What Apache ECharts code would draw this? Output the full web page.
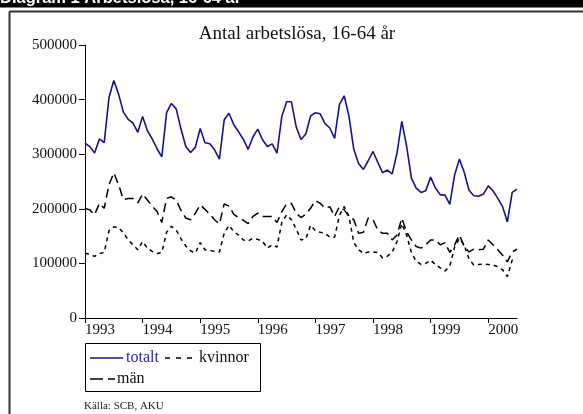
<!DOCTYPE html>
<html><head><meta charset="utf-8">
<script src="https://cdn.jsdelivr.net/npm/echarts@6/dist/echarts.min.js"></script>
<style>html,body{margin:0;padding:0;background:#fff}#c{width:583px;height:414px}</style>
</head><body><div id="c"></div>
<script>
// Monthly data, Jan 1993 – Jul 2000
const startYear = 1993;
const yearTicks = [1993, 1994, 1995, 1996, 1997, 1998, 1999, 2000];
const yTicks = [0, 100000, 200000, 300000, 400000, 500000];
const totalt = [320,314,302,328,321,404,435,410,377,364,357,340,
  369,343,328,310,295,376,393,383,346,314,303,313,
  347,321,319,308,291,363,375,354,341,327,309,332,
  346,326,314,319,302,369,396,396,350,327,337,370,
  376,374,356,348,329,391,407,369,309,283,272,288,
  305,285,266,271,264,302,360,315,256,238,230,233,
  258,238,226,225,208,262,291,267,234,224,223,227,
  242,233,219,204,176,230,236];
const kvinnor = [119,116,113,118,120,160,167,166,156,143,134,125,
  140,128,122,118,120,157,168,161,145,132,123,119,
  138,125,124,122,121,155,170,158,152,143,141,146,
  144,140,128,134,130,175,189,180,163,143,145,170,
  160,157,155,148,148,188,204,186,138,125,118,121,
  121,120,110,113,121,140,173,152,120,104,98,100,
  106,98,92,86,95,130,146,134,108,97,98,99,
  98,97,94,88,76,106,108];
const man = [201,198,189,210,201,244,266,244,217,219,219,211,
  227,216,205,195,175,219,222,216,197,183,180,192,
  207,199,190,180,172,209,205,190,184,179,173,186,
  192,186,186,186,175,195,209,210,192,184,190,201,
  215,210,201,204,186,204,198,186,180,155,157,183,
  180,161,155,155,143,152,183,158,143,131,128,134,
  143,143,134,138,120,134,152,131,121,126,125,126,
  143,134,125,115,103,121,126];

const toPts = arr => arr.map((v, i) => [startYear + i / 12, v * 1000]);
const serif = 'Liberation Serif';
const blue = '#14148c';

const chart = echarts.init(document.getElementById('c'), null, {renderer: 'canvas'});
chart.setOption({
  animation: false,
  backgroundColor: '#fff',
  grid: {left: 85, right: 66, top: 45, bottom: 96, containLabel: false},
  title: {
    text: 'Antal arbetslösa, 16-64 år',
    left: 292, top: 20, textAlign: 'center',
    textStyle: {fontFamily: serif, fontSize: 19, fontWeight: 'normal', color: '#111'}
  },
  xAxis: {
    type: 'value', min: yearTicks[0], max: 2000.5, interval: 1,
    axisLine: {lineStyle: {color: '#000', width: 1}},
    axisTick: {show: true, length: 5, lineStyle: {color: '#000'}},
    splitLine: {show: false},
    axisLabel: {
      showMaxLabel: false, align: 'left', margin: 5,
      fontFamily: serif, fontSize: 15, color: '#111',
      formatter: v => yearTicks.includes(Math.round(v)) ? String(Math.round(v)) : ''
    }
  },
  yAxis: {
    type: 'value', min: yTicks[0], max: yTicks[yTicks.length - 1], interval: 100000,
    axisLine: {show: true, lineStyle: {color: '#000', width: 1}},
    axisTick: {show: true, length: 6, lineStyle: {color: '#000'}},
    splitLine: {show: false},
    axisLabel: {margin: 8, fontFamily: serif, fontSize: 15, color: '#111',
      formatter: v => String(Math.round(v))}
  },
  series: [
    {name: 'totalt', type: 'line', data: toPts(totalt), showSymbol: false,
      lineStyle: {color: blue, width: 1.6}},
    {name: 'kvinnor', type: 'line', data: toPts(kvinnor), showSymbol: false,
      lineStyle: {color: '#000', width: 1.5, type: [4, 4]}},
    {name: 'män', type: 'line', data: toPts(man), showSymbol: false,
      lineStyle: {color: '#000', width: 1.5, type: [9, 5]}}
  ],
  graphic: [
    {type: 'rect', shape: {x: 0, y: 0, width: 583, height: 7.5}, style: {fill: '#000'}},
    {type: 'text', x: 0, y: 6.5, style: {text: 'Diagram 1 Arbetslösa, 16-64 år', fill: '#fff',
      font: 'bold 16.5px "Liberation Sans"', textVerticalAlign: 'bottom'}},
    {type: 'line', shape: {x1: 9.5, y1: 11.5, x2: 583, y2: 11.5}, style: {stroke: '#333', lineWidth: 2}},
    {type: 'line', shape: {x1: 9.5, y1: 11.5, x2: 9.5, y2: 414}, style: {stroke: '#333', lineWidth: 2}},
    {type: 'rect', shape: {x: 85.5, y: 343.5, width: 175, height: 48}, style: {fill: 'none', stroke: '#000', lineWidth: 1}},
    {type: 'line', shape: {x1: 90, y1: 358, x2: 123, y2: 358}, style: {stroke: blue, lineWidth: 1.6}},
    {type: 'text', x: 126, y: 358, style: {text: 'totalt', fill: '#2b2bb0', font: '16px "Liberation Serif"', textVerticalAlign: 'middle'}},
    {type: 'line', shape: {x1: 165, y1: 358, x2: 193, y2: 358}, style: {stroke: '#000', lineWidth: 1.5, lineDash: [5, 6]}},
    {type: 'text', x: 199, y: 358, style: {text: 'kvinnor', fill: '#111', font: '16px "Liberation Serif"', textVerticalAlign: 'middle'}},
    {type: 'line', shape: {x1: 90, y1: 379, x2: 115, y2: 379}, style: {stroke: '#000', lineWidth: 1.5, lineDash: [13, 5]}},
    {type: 'text', x: 117, y: 379, style: {text: 'män', fill: '#111', font: '16px "Liberation Serif"', textVerticalAlign: 'middle'}},
    {type: 'text', x: 84, y: 406, style: {text: 'Källa: SCB, AKU', fill: '#222', font: '11px "Liberation Serif"', textVerticalAlign: 'middle'}}
  ]
});
</script>
</body></html>
